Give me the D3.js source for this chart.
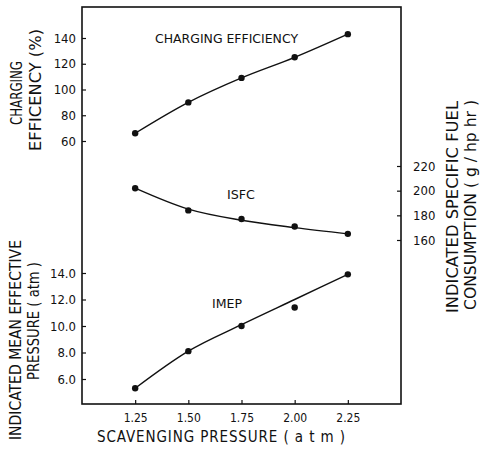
<!DOCTYPE html>
<html>
<head>
<meta charset="utf-8">
<script src="https://cdn.jsdelivr.net/npm/d3@7"></script>
<style>
  body { margin: 0; background: #fff; }
  svg { display: block; }
  text { font-family: "DejaVu Sans Condensed", "DejaVu Sans", sans-serif; fill: #111; }
</style>
</head>
<body>
<div id="chart"></div>
<script>
// Scavenging pressure (atm)
const pressure = [1.25, 1.5, 1.75, 2.0, 2.25];
const xTicks = [1.25, 1.5, 1.75, 2.0, 2.25];

// Charging efficiency (%)
const chargingEff = [66, 90, 109, 125, 143];
const ceTicks = [60, 80, 100, 120, 140];

// Indicated specific fuel consumption (g/hp hr)
const isfc = [202, 184, 177, 171, 165];
const isfcFit = [202, 185, 176, 170, 165];
const isfcTicks = [160, 180, 200, 220];

// Indicated mean effective pressure (atm)
const imep = [5.3, 8.1, 10.0, 11.4, 13.9];
const imepFit = [5.3, 8.1, 10.1, 12.0, 13.9];
const imepTicks = [6, 8, 10, 12, 14];

const W = 482, H = 451;
const box = { left: 82, right: 401, top: 7, bottom: 404 };

const svg = d3.select("#chart").append("svg")
  .attr("width", W).attr("height", H);

// Scales - all series share the same frame, each on its own band
const x = d3.scaleLinear().domain([1.0, 2.5]).range([box.left, box.right]);
const yCE = d3.scaleLinear().domain([60, 140]).range([141, 38]);
const yISFC = d3.scaleLinear().domain([160, 220]).range([240, 166]);
const yIMEP = d3.scaleLinear().domain([6, 14]).range([379, 273]);

// Frame
svg.append("rect")
  .attr("x", box.left).attr("y", box.top)
  .attr("width", box.right - box.left).attr("height", box.bottom - box.top)
  .attr("fill", "none").attr("stroke", "#111").attr("stroke-width", 1.6);

// Axes (ticks point inward)
function styleAxis(g) {
  g.select(".domain").remove();
  g.selectAll(".tick line").attr("stroke", "#111").attr("stroke-width", 1.2);
  g.selectAll(".tick text").attr("fill", "#111")
    .style("font-family", "'DejaVu Sans Condensed', sans-serif");
}

svg.append("g")
  .attr("transform", `translate(0,${box.bottom})`)
  .call(d3.axisBottom(x).tickValues(xTicks).tickFormat(d3.format(".2f"))
    .tickSizeInner(-4).tickPadding(9))
  .call(styleAxis)
  .selectAll(".tick text").style("font-size", "12px");

svg.append("g")
  .attr("transform", `translate(${box.left},0)`)
  .call(d3.axisLeft(yCE).tickValues(ceTicks).tickFormat(d3.format("d"))
    .tickSizeInner(-4).tickPadding(6))
  .call(styleAxis)
  .selectAll(".tick text").style("font-size", "13px");

svg.append("g")
  .attr("transform", `translate(${box.left},0)`)
  .call(d3.axisLeft(yIMEP).tickValues(imepTicks).tickFormat(d3.format(".1f"))
    .tickSizeInner(-4).tickPadding(6))
  .call(styleAxis)
  .selectAll(".tick text").style("font-size", "13px");

svg.append("g")
  .attr("transform", `translate(${box.right},0)`)
  .call(d3.axisRight(yISFC).tickValues(isfcTicks).tickFormat(d3.format("d"))
    .tickSizeInner(-4).tickPadding(12))
  .call(styleAxis)
  .selectAll(".tick text").style("font-size", "13px");

// Series
const series = [
  { values: chargingEff, fit: chargingEff, y: yCE },
  { values: isfc, fit: isfcFit, y: yISFC },
  { values: imep, fit: imepFit, y: yIMEP }
];

series.forEach((s) => {
  const line = d3.line()
    .x((d, i) => x(pressure[i]))
    .y((d) => s.y(d))
    .curve(d3.curveMonotoneX);

  svg.append("path")
    .datum(s.fit)
    .attr("fill", "none")
    .attr("stroke", "#111")
    .attr("stroke-width", 1.4)
    .attr("d", line);

  svg.selectAll(null)
    .data(s.values)
    .enter()
    .append("circle")
    .attr("cx", (d, i) => x(pressure[i]))
    .attr("cy", (d) => s.y(d))
    .attr("r", 3.2)
    .attr("fill", "#111");
});

// Series labels
function label(xPos, yPos, txt, len) {
  svg.append("text").attr("x", xPos).attr("y", yPos)
    .style("font-size", "12px")
    .attr("textLength", len).attr("lengthAdjust", "spacingAndGlyphs")
    .text(txt);
}
label(155, 43, "CHARGING EFFICIENCY", 143);
label(227, 199, "ISFC", 28);
label(212, 308, "IMEP", 30);

// Axis titles
svg.append("text")
  .attr("x", 97).attr("y", 442)
  .style("font-size", "15px")
  .attr("textLength", 248).attr("lengthAdjust", "spacing")
  .text("SCAVENGING PRESSURE   ( a t m )");

function vTitle(xPos, yMid, txt, len) {
  svg.append("text")
    .attr("transform", `translate(${xPos},${yMid + len / 2}) rotate(-90)`)
    .style("font-size", "15px")
    .attr("textLength", len).attr("lengthAdjust", "spacingAndGlyphs")
    .text(txt);
}

vTitle(22, 93, "CHARGING", 64);
vTitle(41, 90, "EFFICENCY (%)", 122);
vTitle(21, 340, "INDICATED MEAN EFFECTIVE", 200);
vTitle(39, 321, "PRESSURE ( atm )", 118);
vTitle(458, 207, "INDICATED SPECIFIC FUEL", 212);
vTitle(476, 205, "CONSUMPTION  ( g / hp hr )", 210);
</script>
</body>
</html>
